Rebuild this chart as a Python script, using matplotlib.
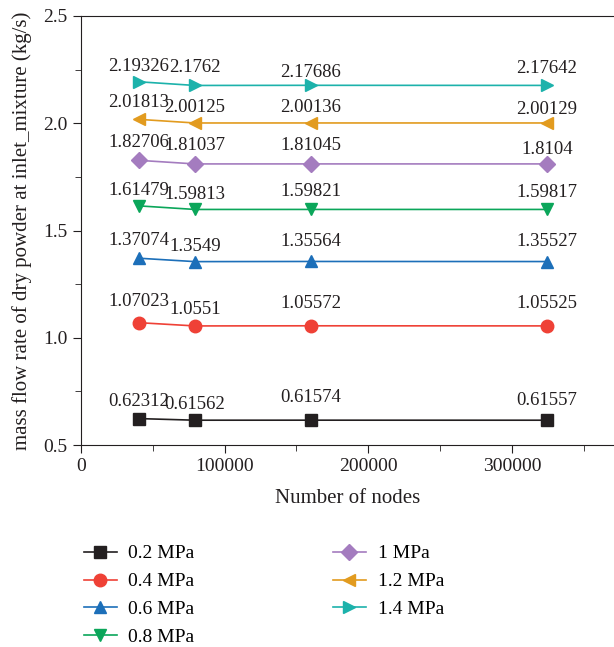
import matplotlib
matplotlib.use("Agg")
import matplotlib.pyplot as plt
from matplotlib.ticker import MultipleLocator

plt.rcParams['font.family'] = ['Liberation Serif', 'DejaVu Serif']

nodes = [40400, 79300, 160000, 324300]
labels = ['0.2 MPa', '0.4 MPa', '0.6 MPa', '0.8 MPa', '1 MPa', '1.2 MPa', '1.4 MPa']
values = [
    [0.62312, 0.61562, 0.61574, 0.61557],
    [1.07023, 1.0551, 1.05572, 1.05525],
    [1.37074, 1.3549, 1.35564, 1.35527],
    [1.61479, 1.59813, 1.59821, 1.59817],
    [1.82706, 1.81037, 1.81045, 1.8104],
    [2.01813, 2.00125, 2.00136, 2.00129],
    [2.19326, 2.1762, 2.17686, 2.17642],
]
texts = [
    ['0.62312', '0.61562', '0.61574', '0.61557'],
    ['1.07023', '1.0551', '1.05572', '1.05525'],
    ['1.37074', '1.3549', '1.35564', '1.35527'],
    ['1.61479', '1.59813', '1.59821', '1.59817'],
    ['1.82706', '1.81037', '1.81045', '1.8104'],
    ['2.01813', '2.00125', '2.00136', '2.00129'],
    ['2.19326', '2.1762', '2.17686', '2.17642'],
]
# baseline offsets of value labels above the points (pixels)
offsets = [
    [13, 11, 18, 15],
    [17, 12, 18, 18],
    [13, 10.5, 15.5, 15.5],
    [10.5, 10, 13, 12],
    [13, 14, 14, 9.5],
    [12, 11, 11, 8.5],
    [10.5, 13, 8, 12],
]
colors = ['#231f20', '#ef4136', '#1c6fb9', '#0ba65a', '#a47cbf', '#e29b1f', '#1cb2ab']
markers = ['s', 'o', '^', 'v', 'D', '<', '>']
msizes = [8, 9, 9, 9, 8, 9, 9]

FS = 14
fig = plt.figure(figsize=(6.14, 6.47), dpi=100)
ax = fig.add_axes([81/614, 1-445/647, 1-81/614, (445-16)/647])

for v, t, o, c, m, s, lab in zip(values, texts, offsets, colors, markers, msizes, labels):
    ax.plot(nodes, v, color=c, marker=m, markersize=s, linewidth=1.2, label=lab)
    for x, y, tx, off in zip(nodes, v, t, o):
        ax.annotate(tx, (x, y), xytext=(0, off), textcoords='offset pixels',
                    ha='center', va='baseline', fontsize=13.5, color='#231f20')

ax.set_xlim(0, 371000)
ax.set_ylim(0.5, 2.5)
ax.xaxis.set_major_locator(MultipleLocator(100000))
ax.xaxis.set_minor_locator(MultipleLocator(50000))
ax.yaxis.set_major_locator(MultipleLocator(0.5))
ax.yaxis.set_minor_locator(MultipleLocator(0.25))
ax.tick_params(which='both', direction='out', labelsize=FS, colors='#231f20')
ax.tick_params(which='major', length=6)
ax.tick_params(which='minor', length=4)
ax.spines['right'].set_visible(False)
for sp in ['left', 'bottom', 'top']:
    ax.spines[sp].set_color('#231f20')
ax.set_xlabel('Number of nodes', fontsize=15, labelpad=10, color='#231f20')
ax.set_ylabel('mass flow rate of dry powder at inlet_mixture (kg/s)', fontsize=15,
              labelpad=8, color='#231f20')

fig.legend(loc='upper left', bbox_to_anchor=(76/614, 1-537/647), ncol=2, frameon=False,
           fontsize=FS, handlelength=1.7, columnspacing=7.1, labelspacing=0.53,
           handletextpad=0.6, borderaxespad=0)

fig.savefig('out.png', dpi=100)
